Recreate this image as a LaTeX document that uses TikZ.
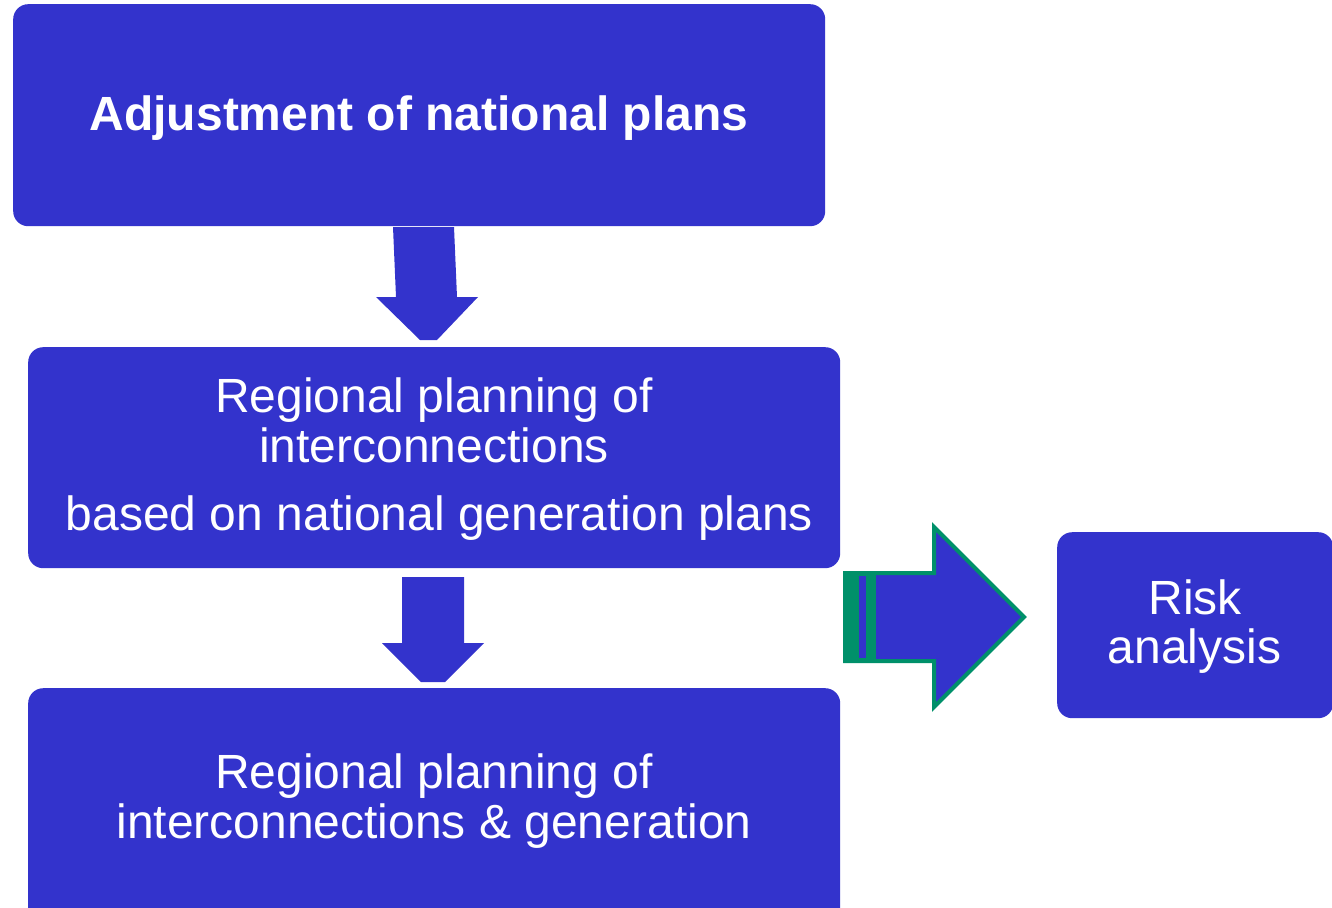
\documentclass[tikz,border=0pt]{standalone}
\usepackage{fontspec}
\setmainfont{Liberation Sans}
\definecolor{boxblue}{RGB}{51,51,204}
\definecolor{arrgreen}{RGB}{0,144,106}
\begin{document}
\begin{tikzpicture}[x=1pt,y=-1pt,
  box/.style={fill=boxblue, draw=none, rounded corners=15pt, rectangle, anchor=north west, inner sep=0pt},
  lbl/.style={text=white, font=\fontsize{48}{48}\selectfont, anchor=base, inner sep=0pt},
  blockarrow/.style={fill=boxblue, draw=none}]
\useasboundingbox (0,0) rectangle (1332,907);
\clip (0,0) rectangle (1332,907);
\fill[white] (0,0) rectangle (1332,907);
% boxes
\node[box, minimum width=812pt, minimum height=222pt] (adj) at (13,4) {};
\node[box, minimum width=812pt, minimum height=221pt] (reg) at (28,347) {};
\node[box, minimum width=812pt, minimum height=240pt] (regg) at (28,688) {};
\node[box, minimum width=276pt, minimum height=186pt] (risk) at (1057,532) {};
% texts
\node[lbl, font=\fontsize{48}{48}\selectfont\bfseries] (t1) at (419,130) {Adjustment of national plans};
\node[lbl] (t2a) at (434,412) {Regional planning of};
\node[lbl] (t2b) at (434,462) {interconnections};
\node[lbl] (t2c) at (439.5,530) {based on national generation plans};
\node[lbl] (t3a) at (434,788) {Regional planning of};
\node[lbl] (t3b) at (434,838) {interconnections \& generation};
\node[lbl] (t4a) at (1195,614) {Risk};
\node[lbl] (t4b) at (1194.5,663) {analysis};
% down arrows
\path[blockarrow] (393,227) -- (454,227) -- (457,297) -- (478,297) -- (437,340) -- (420,340) -- (376,297) -- (396,297) -- cycle;
\path[blockarrow] (402,577) -- (464,577) -- (464,643) -- (484,643) -- (445,682) -- (421,682) -- (382,643) -- (402,643) -- cycle;
% right arrow
\path[fill=boxblue, draw=arrgreen, line width=4pt, miter limit=10] (845,573) -- (934,573) -- (934,527) -- (1024,617) -- (934,707) -- (934,661) -- (845,661) -- cycle;
\fill[arrgreen] (843,571) rectangle (876,663);
\fill[boxblue] (859,576) rectangle (866,658);
\end{tikzpicture}
\end{document}
